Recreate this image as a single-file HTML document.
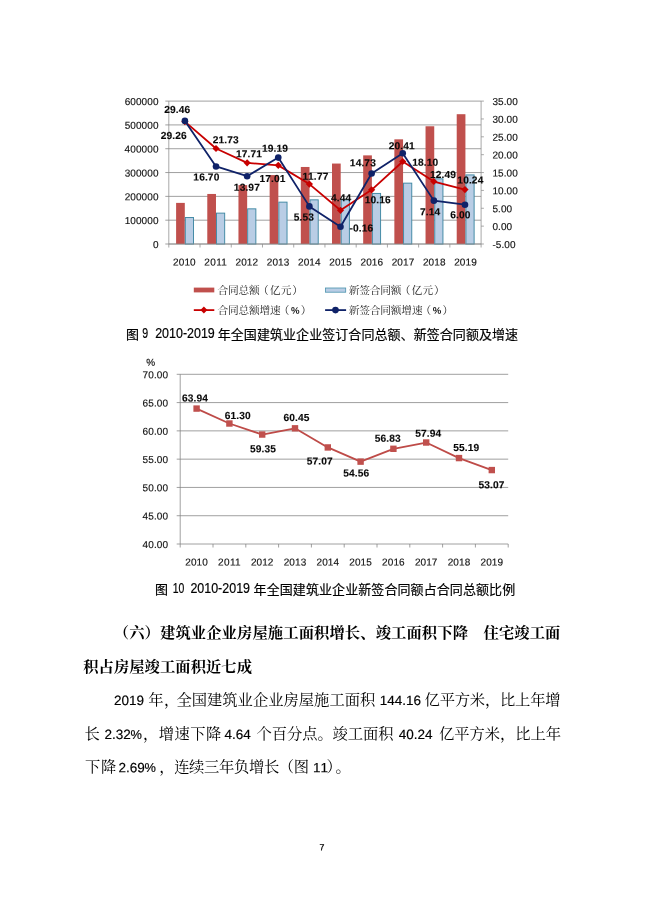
<!DOCTYPE html>
<html lang="zh"><head><meta charset="utf-8"><title>Page 7</title>
<style>html,body{margin:0;padding:0;background:#fff;}body{width:650px;height:919px;overflow:hidden;font-family:"Liberation Sans",sans-serif;}svg{display:block;will-change:transform;}</style>
</head><body>
<svg width="650" height="919" viewBox="0 0 650 919" font-family="Liberation Sans, sans-serif">
<rect width="650" height="919" fill="#fff"/>
<g stroke="#808080" stroke-width="0.75" fill="none"><line x1="165.3" y1="244.00" x2="481.1" y2="244.00"/><line x1="165.3" y1="220.18" x2="481.1" y2="220.18"/><line x1="165.3" y1="196.37" x2="481.1" y2="196.37"/><line x1="165.3" y1="172.55" x2="481.1" y2="172.55"/><line x1="165.3" y1="148.73" x2="481.1" y2="148.73"/><line x1="165.3" y1="124.92" x2="481.1" y2="124.92"/><line x1="165.3" y1="101.10" x2="481.1" y2="101.10"/></g>
<rect x="176.10" y="202.89" width="8.7" height="41.11" fill="#c0504d"/><rect x="185.30" y="217.52" width="8.2" height="26.48" fill="#b9cde5" stroke="#3f88a3" stroke-width="0.95"/><rect x="207.28" y="193.96" width="8.7" height="50.04" fill="#c0504d"/><rect x="216.48" y="213.13" width="8.2" height="30.87" fill="#b9cde5" stroke="#3f88a3" stroke-width="0.95"/><rect x="238.46" y="185.10" width="8.7" height="58.90" fill="#c0504d"/><rect x="247.66" y="208.84" width="8.2" height="35.16" fill="#b9cde5" stroke="#3f88a3" stroke-width="0.95"/><rect x="269.64" y="175.08" width="8.7" height="68.92" fill="#c0504d"/><rect x="278.84" y="202.14" width="8.2" height="41.86" fill="#b9cde5" stroke="#3f88a3" stroke-width="0.95"/><rect x="300.82" y="166.97" width="8.7" height="77.03" fill="#c0504d"/><rect x="310.02" y="199.84" width="8.2" height="44.16" fill="#b9cde5" stroke="#3f88a3" stroke-width="0.95"/><rect x="332.00" y="163.55" width="8.7" height="80.45" fill="#c0504d"/><rect x="341.20" y="199.90" width="8.2" height="44.10" fill="#b9cde5" stroke="#3f88a3" stroke-width="0.95"/><rect x="363.18" y="155.37" width="8.7" height="88.63" fill="#c0504d"/><rect x="372.38" y="193.43" width="8.2" height="50.57" fill="#b9cde5" stroke="#3f88a3" stroke-width="0.95"/><rect x="394.36" y="139.33" width="8.7" height="104.67" fill="#c0504d"/><rect x="403.56" y="183.15" width="8.2" height="60.85" fill="#b9cde5" stroke="#3f88a3" stroke-width="0.95"/><rect x="425.54" y="126.26" width="8.7" height="117.74" fill="#c0504d"/><rect x="434.74" y="178.82" width="8.2" height="65.18" fill="#b9cde5" stroke="#3f88a3" stroke-width="0.95"/><rect x="456.72" y="114.20" width="8.7" height="129.80" fill="#c0504d"/><rect x="465.92" y="174.92" width="8.2" height="69.08" fill="#b9cde5" stroke="#3f88a3" stroke-width="0.95"/>
<g stroke="#8c8c8c" stroke-width="0.75" fill="none"><line x1="168.8" y1="101.1" x2="168.8" y2="244.0"/><line x1="481.1" y1="101.1" x2="481.1" y2="244.0"/><line x1="168.8" y1="244.0" x2="481.1" y2="244.0"/><line x1="168.80" y1="244.0" x2="168.80" y2="247.5"/><line x1="200.03" y1="244.0" x2="200.03" y2="247.5"/><line x1="231.26" y1="244.0" x2="231.26" y2="247.5"/><line x1="262.49" y1="244.0" x2="262.49" y2="247.5"/><line x1="293.72" y1="244.0" x2="293.72" y2="247.5"/><line x1="324.95" y1="244.0" x2="324.95" y2="247.5"/><line x1="356.18" y1="244.0" x2="356.18" y2="247.5"/><line x1="387.41" y1="244.0" x2="387.41" y2="247.5"/><line x1="418.64" y1="244.0" x2="418.64" y2="247.5"/><line x1="449.87" y1="244.0" x2="449.87" y2="247.5"/><line x1="481.10" y1="244.0" x2="481.10" y2="247.5"/><line x1="481.1" y1="244.00" x2="483.9" y2="244.00"/><line x1="481.1" y1="226.14" x2="483.9" y2="226.14"/><line x1="481.1" y1="208.28" x2="483.9" y2="208.28"/><line x1="481.1" y1="190.41" x2="483.9" y2="190.41"/><line x1="481.1" y1="172.55" x2="483.9" y2="172.55"/><line x1="481.1" y1="154.69" x2="483.9" y2="154.69"/><line x1="481.1" y1="136.82" x2="483.9" y2="136.82"/><line x1="481.1" y1="118.96" x2="483.9" y2="118.96"/><line x1="481.1" y1="101.10" x2="483.9" y2="101.10"/></g>
<polyline points="184.90,121.61 216.02,148.51 247.14,162.87 278.26,165.37 309.38,184.09 340.50,210.28 371.62,189.84 402.74,161.48 433.86,181.52 464.98,189.56" fill="none" stroke="#c80000" stroke-width="1.8" stroke-linejoin="round"/>
<polyline points="184.90,120.89 216.02,166.48 247.14,176.23 278.26,157.58 309.38,206.38 340.50,226.71 371.62,173.51 402.74,153.22 433.86,200.63 464.98,204.70" fill="none" stroke="#0f2268" stroke-width="1.8" stroke-linejoin="round"/>
<path d="M184.90 118.01l3.6 3.6l-3.6 3.6l-3.6 -3.6z" fill="#c80000"/><path d="M216.02 144.91l3.6 3.6l-3.6 3.6l-3.6 -3.6z" fill="#c80000"/><path d="M247.14 159.27l3.6 3.6l-3.6 3.6l-3.6 -3.6z" fill="#c80000"/><path d="M278.26 161.77l3.6 3.6l-3.6 3.6l-3.6 -3.6z" fill="#c80000"/><path d="M309.38 180.49l3.6 3.6l-3.6 3.6l-3.6 -3.6z" fill="#c80000"/><path d="M340.50 206.68l3.6 3.6l-3.6 3.6l-3.6 -3.6z" fill="#c80000"/><path d="M371.62 186.24l3.6 3.6l-3.6 3.6l-3.6 -3.6z" fill="#c80000"/><path d="M402.74 157.88l3.6 3.6l-3.6 3.6l-3.6 -3.6z" fill="#c80000"/><path d="M433.86 177.92l3.6 3.6l-3.6 3.6l-3.6 -3.6z" fill="#c80000"/><path d="M464.98 185.96l3.6 3.6l-3.6 3.6l-3.6 -3.6z" fill="#c80000"/><circle cx="184.90" cy="120.89" r="3.3" fill="#0f2268"/><circle cx="216.02" cy="166.48" r="3.3" fill="#0f2268"/><circle cx="247.14" cy="176.23" r="3.3" fill="#0f2268"/><circle cx="278.26" cy="157.58" r="3.3" fill="#0f2268"/><circle cx="309.38" cy="206.38" r="3.3" fill="#0f2268"/><circle cx="340.50" cy="226.71" r="3.3" fill="#0f2268"/><circle cx="371.62" cy="173.51" r="3.3" fill="#0f2268"/><circle cx="402.74" cy="153.22" r="3.3" fill="#0f2268"/><circle cx="433.86" cy="200.63" r="3.3" fill="#0f2268"/><circle cx="464.98" cy="204.70" r="3.3" fill="#0f2268"/>
<text x="158.60" y="247.90" font-size="10" text-anchor="end" font-weight="normal" fill="#111" font-family="Liberation Sans, sans-serif" stroke="#111" stroke-width="0.15" letter-spacing="0.1" transform="rotate(0.03 158.6 247.9)">0</text>
<text x="158.60" y="224.08" font-size="10" text-anchor="end" font-weight="normal" fill="#111" font-family="Liberation Sans, sans-serif" stroke="#111" stroke-width="0.15" letter-spacing="0.1" transform="rotate(0.03 158.6 224.1)" textLength="33.97" lengthAdjust="spacing">100000</text>
<text x="158.60" y="200.27" font-size="10" text-anchor="end" font-weight="normal" fill="#111" font-family="Liberation Sans, sans-serif" stroke="#111" stroke-width="0.15" letter-spacing="0.1" transform="rotate(0.03 158.6 200.3)" textLength="33.97" lengthAdjust="spacing">200000</text>
<text x="158.60" y="176.45" font-size="10" text-anchor="end" font-weight="normal" fill="#111" font-family="Liberation Sans, sans-serif" stroke="#111" stroke-width="0.15" letter-spacing="0.1" transform="rotate(0.03 158.6 176.5)" textLength="33.97" lengthAdjust="spacing">300000</text>
<text x="158.60" y="152.63" font-size="10" text-anchor="end" font-weight="normal" fill="#111" font-family="Liberation Sans, sans-serif" stroke="#111" stroke-width="0.15" letter-spacing="0.1" transform="rotate(0.03 158.6 152.6)" textLength="33.97" lengthAdjust="spacing">400000</text>
<text x="158.60" y="128.82" font-size="10" text-anchor="end" font-weight="normal" fill="#111" font-family="Liberation Sans, sans-serif" stroke="#111" stroke-width="0.15" letter-spacing="0.1" transform="rotate(0.03 158.6 128.8)" textLength="33.97" lengthAdjust="spacing">500000</text>
<text x="158.60" y="105.00" font-size="10" text-anchor="end" font-weight="normal" fill="#111" font-family="Liberation Sans, sans-serif" stroke="#111" stroke-width="0.15" letter-spacing="0.1" transform="rotate(0.03 158.6 105.0)" textLength="33.97" lengthAdjust="spacing">600000</text>
<text x="492.40" y="247.90" font-size="10" text-anchor="start" font-weight="normal" fill="#111" font-family="Liberation Sans, sans-serif" stroke="#111" stroke-width="0.15" letter-spacing="0.1" transform="rotate(0.03 492.4 247.9)" textLength="23.29" lengthAdjust="spacing">-5.00</text>
<text x="492.40" y="230.04" font-size="10" text-anchor="start" font-weight="normal" fill="#111" font-family="Liberation Sans, sans-serif" stroke="#111" stroke-width="0.15" letter-spacing="0.1" transform="rotate(0.03 492.4 230.0)" textLength="19.86" lengthAdjust="spacing">0.00</text>
<text x="492.40" y="212.18" font-size="10" text-anchor="start" font-weight="normal" fill="#111" font-family="Liberation Sans, sans-serif" stroke="#111" stroke-width="0.15" letter-spacing="0.1" transform="rotate(0.03 492.4 212.2)" textLength="19.86" lengthAdjust="spacing">5.00</text>
<text x="492.40" y="194.31" font-size="10" text-anchor="start" font-weight="normal" fill="#111" font-family="Liberation Sans, sans-serif" stroke="#111" stroke-width="0.15" letter-spacing="0.1" transform="rotate(0.03 492.4 194.3)" textLength="25.52" lengthAdjust="spacing">10.00</text>
<text x="492.40" y="176.45" font-size="10" text-anchor="start" font-weight="normal" fill="#111" font-family="Liberation Sans, sans-serif" stroke="#111" stroke-width="0.15" letter-spacing="0.1" transform="rotate(0.03 492.4 176.5)" textLength="25.52" lengthAdjust="spacing">15.00</text>
<text x="492.40" y="158.59" font-size="10" text-anchor="start" font-weight="normal" fill="#111" font-family="Liberation Sans, sans-serif" stroke="#111" stroke-width="0.15" letter-spacing="0.1" transform="rotate(0.03 492.4 158.6)" textLength="25.52" lengthAdjust="spacing">20.00</text>
<text x="492.40" y="140.72" font-size="10" text-anchor="start" font-weight="normal" fill="#111" font-family="Liberation Sans, sans-serif" stroke="#111" stroke-width="0.15" letter-spacing="0.1" transform="rotate(0.03 492.4 140.7)" textLength="25.52" lengthAdjust="spacing">25.00</text>
<text x="492.40" y="122.86" font-size="10" text-anchor="start" font-weight="normal" fill="#111" font-family="Liberation Sans, sans-serif" stroke="#111" stroke-width="0.15" letter-spacing="0.1" transform="rotate(0.03 492.4 122.9)" textLength="25.52" lengthAdjust="spacing">30.00</text>
<text x="492.40" y="105.00" font-size="10" text-anchor="start" font-weight="normal" fill="#111" font-family="Liberation Sans, sans-serif" stroke="#111" stroke-width="0.15" letter-spacing="0.1" transform="rotate(0.03 492.4 105.0)" textLength="25.52" lengthAdjust="spacing">35.00</text>
<text x="184.42" y="265.50" font-size="10" text-anchor="middle" font-weight="normal" fill="#111" font-family="Liberation Sans, sans-serif" stroke="#111" stroke-width="0.15" letter-spacing="0.1" transform="rotate(0.03 184.4 265.5)" textLength="22.65" lengthAdjust="spacing">2010</text>
<text x="215.65" y="265.50" font-size="10" text-anchor="middle" font-weight="normal" fill="#111" font-family="Liberation Sans, sans-serif" stroke="#111" stroke-width="0.15" letter-spacing="0.1" transform="rotate(0.03 215.6 265.5)" textLength="22.65" lengthAdjust="spacing">2011</text>
<text x="246.88" y="265.50" font-size="10" text-anchor="middle" font-weight="normal" fill="#111" font-family="Liberation Sans, sans-serif" stroke="#111" stroke-width="0.15" letter-spacing="0.1" transform="rotate(0.03 246.9 265.5)" textLength="22.65" lengthAdjust="spacing">2012</text>
<text x="278.11" y="265.50" font-size="10" text-anchor="middle" font-weight="normal" fill="#111" font-family="Liberation Sans, sans-serif" stroke="#111" stroke-width="0.15" letter-spacing="0.1" transform="rotate(0.03 278.1 265.5)" textLength="22.65" lengthAdjust="spacing">2013</text>
<text x="309.34" y="265.50" font-size="10" text-anchor="middle" font-weight="normal" fill="#111" font-family="Liberation Sans, sans-serif" stroke="#111" stroke-width="0.15" letter-spacing="0.1" transform="rotate(0.03 309.3 265.5)" textLength="22.65" lengthAdjust="spacing">2014</text>
<text x="340.57" y="265.50" font-size="10" text-anchor="middle" font-weight="normal" fill="#111" font-family="Liberation Sans, sans-serif" stroke="#111" stroke-width="0.15" letter-spacing="0.1" transform="rotate(0.03 340.6 265.5)" textLength="22.65" lengthAdjust="spacing">2015</text>
<text x="371.80" y="265.50" font-size="10" text-anchor="middle" font-weight="normal" fill="#111" font-family="Liberation Sans, sans-serif" stroke="#111" stroke-width="0.15" letter-spacing="0.1" transform="rotate(0.03 371.8 265.5)" textLength="22.65" lengthAdjust="spacing">2016</text>
<text x="403.02" y="265.50" font-size="10" text-anchor="middle" font-weight="normal" fill="#111" font-family="Liberation Sans, sans-serif" stroke="#111" stroke-width="0.15" letter-spacing="0.1" transform="rotate(0.03 403.0 265.5)" textLength="22.65" lengthAdjust="spacing">2017</text>
<text x="434.25" y="265.50" font-size="10" text-anchor="middle" font-weight="normal" fill="#111" font-family="Liberation Sans, sans-serif" stroke="#111" stroke-width="0.15" letter-spacing="0.1" transform="rotate(0.03 434.3 265.5)" textLength="22.65" lengthAdjust="spacing">2018</text>
<text x="465.49" y="265.50" font-size="10" text-anchor="middle" font-weight="normal" fill="#111" font-family="Liberation Sans, sans-serif" stroke="#111" stroke-width="0.15" letter-spacing="0.1" transform="rotate(0.03 465.5 265.5)" textLength="22.65" lengthAdjust="spacing">2019</text>
<text x="177.30" y="112.90" font-size="10.2" text-anchor="middle" font-weight="bold" fill="#080808" font-family="Liberation Sans, sans-serif" stroke="#080808" stroke-width="0.12" letter-spacing="0.12" transform="rotate(0.03 177.3 112.9)" textLength="26.12" lengthAdjust="spacing">29.46</text>
<text x="173.80" y="138.90" font-size="10.2" text-anchor="middle" font-weight="bold" fill="#080808" font-family="Liberation Sans, sans-serif" stroke="#080808" stroke-width="0.12" letter-spacing="0.12" transform="rotate(0.03 173.8 138.9)" textLength="26.12" lengthAdjust="spacing">29.26</text>
<text x="225.80" y="143.20" font-size="10.2" text-anchor="middle" font-weight="bold" fill="#080808" font-family="Liberation Sans, sans-serif" stroke="#080808" stroke-width="0.12" letter-spacing="0.12" transform="rotate(0.03 225.8 143.2)" textLength="26.12" lengthAdjust="spacing">21.73</text>
<text x="206.40" y="180.60" font-size="10.2" text-anchor="middle" font-weight="bold" fill="#080808" font-family="Liberation Sans, sans-serif" stroke="#080808" stroke-width="0.12" letter-spacing="0.12" transform="rotate(0.03 206.4 180.6)" textLength="26.12" lengthAdjust="spacing">16.70</text>
<text x="249.10" y="157.20" font-size="10.2" text-anchor="middle" font-weight="bold" fill="#080808" font-family="Liberation Sans, sans-serif" stroke="#080808" stroke-width="0.12" letter-spacing="0.12" transform="rotate(0.03 249.1 157.2)" textLength="26.12" lengthAdjust="spacing">17.71</text>
<text x="246.90" y="190.80" font-size="10.2" text-anchor="middle" font-weight="bold" fill="#080808" font-family="Liberation Sans, sans-serif" stroke="#080808" stroke-width="0.12" letter-spacing="0.12" transform="rotate(0.03 246.9 190.8)" textLength="26.12" lengthAdjust="spacing">13.97</text>
<text x="275.10" y="151.80" font-size="10.2" text-anchor="middle" font-weight="bold" fill="#080808" font-family="Liberation Sans, sans-serif" stroke="#080808" stroke-width="0.12" letter-spacing="0.12" transform="rotate(0.03 275.1 151.8)" textLength="26.12" lengthAdjust="spacing">19.19</text>
<text x="272.50" y="182.00" font-size="10.2" text-anchor="middle" font-weight="bold" fill="#080808" font-family="Liberation Sans, sans-serif" stroke="#080808" stroke-width="0.12" letter-spacing="0.12" transform="rotate(0.03 272.5 182.0)" textLength="26.12" lengthAdjust="spacing">17.01</text>
<text x="315.60" y="179.80" font-size="10.2" text-anchor="middle" font-weight="bold" fill="#080808" font-family="Liberation Sans, sans-serif" stroke="#080808" stroke-width="0.12" letter-spacing="0.12" transform="rotate(0.03 315.6 179.8)" textLength="26.12" lengthAdjust="spacing">11.77</text>
<text x="303.80" y="220.60" font-size="10.2" text-anchor="middle" font-weight="bold" fill="#080808" font-family="Liberation Sans, sans-serif" stroke="#080808" stroke-width="0.12" letter-spacing="0.12" transform="rotate(0.03 303.8 220.6)" textLength="20.33" lengthAdjust="spacing">5.53</text>
<text x="341.10" y="201.20" font-size="10.2" text-anchor="middle" font-weight="bold" fill="#080808" font-family="Liberation Sans, sans-serif" stroke="#080808" stroke-width="0.12" letter-spacing="0.12" transform="rotate(0.03 341.1 201.2)" textLength="20.33" lengthAdjust="spacing">4.44</text>
<text x="361.40" y="231.60" font-size="10.2" text-anchor="middle" font-weight="bold" fill="#080808" font-family="Liberation Sans, sans-serif" stroke="#080808" stroke-width="0.12" letter-spacing="0.12" transform="rotate(0.03 361.4 231.6)" textLength="23.85" lengthAdjust="spacing">-0.16</text>
<text x="362.90" y="166.20" font-size="10.2" text-anchor="middle" font-weight="bold" fill="#080808" font-family="Liberation Sans, sans-serif" stroke="#080808" stroke-width="0.12" letter-spacing="0.12" transform="rotate(0.03 362.9 166.2)" textLength="26.12" lengthAdjust="spacing">14.73</text>
<text x="377.70" y="203.20" font-size="10.2" text-anchor="middle" font-weight="bold" fill="#080808" font-family="Liberation Sans, sans-serif" stroke="#080808" stroke-width="0.12" letter-spacing="0.12" transform="rotate(0.03 377.7 203.2)" textLength="26.12" lengthAdjust="spacing">10.16</text>
<text x="401.80" y="149.20" font-size="10.2" text-anchor="middle" font-weight="bold" fill="#080808" font-family="Liberation Sans, sans-serif" stroke="#080808" stroke-width="0.12" letter-spacing="0.12" transform="rotate(0.03 401.8 149.2)" textLength="26.12" lengthAdjust="spacing">20.41</text>
<text x="425.30" y="165.80" font-size="10.2" text-anchor="middle" font-weight="bold" fill="#080808" font-family="Liberation Sans, sans-serif" stroke="#080808" stroke-width="0.12" letter-spacing="0.12" transform="rotate(0.03 425.3 165.8)" textLength="26.12" lengthAdjust="spacing">18.10</text>
<text x="443.10" y="178.00" font-size="10.2" text-anchor="middle" font-weight="bold" fill="#080808" font-family="Liberation Sans, sans-serif" stroke="#080808" stroke-width="0.12" letter-spacing="0.12" transform="rotate(0.03 443.1 178.0)" textLength="26.12" lengthAdjust="spacing">12.49</text>
<text x="430.10" y="215.20" font-size="10.2" text-anchor="middle" font-weight="bold" fill="#080808" font-family="Liberation Sans, sans-serif" stroke="#080808" stroke-width="0.12" letter-spacing="0.12" transform="rotate(0.03 430.1 215.2)" textLength="20.33" lengthAdjust="spacing">7.14</text>
<text x="470.40" y="183.40" font-size="10.2" text-anchor="middle" font-weight="bold" fill="#080808" font-family="Liberation Sans, sans-serif" stroke="#080808" stroke-width="0.12" letter-spacing="0.12" transform="rotate(0.03 470.4 183.4)" textLength="26.12" lengthAdjust="spacing">10.24</text>
<text x="460.30" y="218.20" font-size="10.2" text-anchor="middle" font-weight="bold" fill="#080808" font-family="Liberation Sans, sans-serif" stroke="#080808" stroke-width="0.12" letter-spacing="0.12" transform="rotate(0.03 460.3 218.2)" textLength="20.33" lengthAdjust="spacing">6.00</text>
<rect x="193.8" y="287.6" width="20.5" height="4.8" fill="#c0504d"/>
<rect x="325.5" y="288.0" width="20.2" height="4.2" fill="#b9cde5" stroke="#4a93ad" stroke-width="0.8"/>
<line x1="193.8" y1="310.1" x2="214.3" y2="310.1" stroke="#c80000" stroke-width="1.8"/>
<path d="M203.9 306.6l3.5 3.5l-3.5 3.5l-3.5 -3.5z" fill="#c80000"/>
<line x1="325.1" y1="310.1" x2="346.1" y2="310.1" stroke="#0f2268" stroke-width="1.8"/>
<circle cx="335.5" cy="310.1" r="3.3" fill="#0f2268"/>
<g fill="#222" font-size="10.7" font-family="'Liberation Serif', 'Noto Serif CJK SC', serif">
<text x="217.5" y="294.0" textLength="42.2">合同总额</text>
<text x="258.0" y="294.0" textLength="10.7">（</text>
<text x="269.7" y="294.0" textLength="21.8">亿元</text>
<text x="292.3" y="294.0" textLength="10.7">）</text>
<text x="348.7" y="294.0" textLength="52.8">新签合同额</text>
<text x="399.8" y="294.0" textLength="10.7">（</text>
<text x="411.5" y="294.0" textLength="21.8">亿元</text>
<text x="434.1" y="294.0" textLength="10.7">）</text>
<text x="217.5" y="314.0" textLength="63.3">合同总额增速</text>
<text x="278.8" y="314.0" textLength="10.7">（</text>
<text x="300.7" y="314.0" textLength="10.7">）</text>
<text x="348.7" y="314.0" textLength="73.9">新签合同额增速</text>
<text x="420.6" y="314.0" textLength="10.7">（</text>
<text x="442.5" y="314.0" textLength="10.7">）</text>
</g>
<text x="291.00" y="313.80" font-size="9.6" text-anchor="start" font-weight="bold" fill="#222" font-family="Liberation Sans, sans-serif" transform="rotate(0.03 291.0 313.8)">%</text>
<text x="432.75" y="313.80" font-size="9.6" text-anchor="start" font-weight="bold" fill="#222" font-family="Liberation Sans, sans-serif" transform="rotate(0.03 432.8 313.8)">%</text>
<text x="126.0" y="339.3" font-size="13.0" fill="#000" stroke="#000" stroke-width="0.18" font-family="'Liberation Sans', 'Noto Sans CJK SC', sans-serif" textLength="13.0">图</text>
<text x="142.3" y="338.4" font-size="14" stroke="#000" stroke-width="0.2" textLength="5.9" lengthAdjust="spacingAndGlyphs">9</text>
<text x="155.2" y="338.4" font-size="14" stroke="#000" stroke-width="0.2" textLength="59.6" lengthAdjust="spacingAndGlyphs">2010-2019</text>
<text x="217.7" y="339.3" font-size="13.0" fill="#000" stroke="#000" stroke-width="0.18" font-family="'Liberation Sans', 'Noto Sans CJK SC', sans-serif" textLength="300.4">年全国建筑业企业签订合同总额、新签合同额及增速</text>
<g stroke="#808080" stroke-width="0.75" fill="none"><line x1="176.7" y1="544.00" x2="508.2" y2="544.00"/><line x1="176.7" y1="515.72" x2="508.2" y2="515.72"/><line x1="176.7" y1="487.43" x2="508.2" y2="487.43"/><line x1="176.7" y1="459.15" x2="508.2" y2="459.15"/><line x1="176.7" y1="430.87" x2="508.2" y2="430.87"/><line x1="176.7" y1="402.58" x2="508.2" y2="402.58"/><line x1="176.7" y1="374.30" x2="508.2" y2="374.30"/><line x1="180.2" y1="374.3" x2="180.2" y2="544.0"/><line x1="180.20" y1="544.0" x2="180.20" y2="547.5"/><line x1="213.00" y1="544.0" x2="213.00" y2="547.5"/><line x1="245.80" y1="544.0" x2="245.80" y2="547.5"/><line x1="278.60" y1="544.0" x2="278.60" y2="547.5"/><line x1="311.40" y1="544.0" x2="311.40" y2="547.5"/><line x1="344.20" y1="544.0" x2="344.20" y2="547.5"/><line x1="377.00" y1="544.0" x2="377.00" y2="547.5"/><line x1="409.80" y1="544.0" x2="409.80" y2="547.5"/><line x1="442.60" y1="544.0" x2="442.60" y2="547.5"/><line x1="475.40" y1="544.0" x2="475.40" y2="547.5"/><line x1="508.20" y1="544.0" x2="508.20" y2="547.5"/></g>
<polyline points="196.60,408.58 229.40,423.51 262.20,434.54 295.00,428.32 327.80,447.44 360.60,461.64 393.40,448.80 426.20,442.52 459.00,458.08 491.80,470.07" fill="none" stroke="#be4b48" stroke-width="1.8" stroke-linejoin="round"/>
<rect x="193.40" y="405.38" width="6.4" height="6.4" fill="#c0504d"/><rect x="226.20" y="420.31" width="6.4" height="6.4" fill="#c0504d"/><rect x="259.00" y="431.34" width="6.4" height="6.4" fill="#c0504d"/><rect x="291.80" y="425.12" width="6.4" height="6.4" fill="#c0504d"/><rect x="324.60" y="444.24" width="6.4" height="6.4" fill="#c0504d"/><rect x="357.40" y="458.44" width="6.4" height="6.4" fill="#c0504d"/><rect x="390.20" y="445.60" width="6.4" height="6.4" fill="#c0504d"/><rect x="423.00" y="439.32" width="6.4" height="6.4" fill="#c0504d"/><rect x="455.80" y="454.88" width="6.4" height="6.4" fill="#c0504d"/><rect x="488.60" y="466.87" width="6.4" height="6.4" fill="#c0504d"/>
<text x="142.60" y="547.90" font-size="10" text-anchor="start" font-weight="normal" fill="#111" font-family="Liberation Sans, sans-serif" stroke="#111" stroke-width="0.15" letter-spacing="0.1" transform="rotate(0.03 142.6 547.9)" textLength="25.52" lengthAdjust="spacing">40.00</text>
<text x="142.60" y="519.62" font-size="10" text-anchor="start" font-weight="normal" fill="#111" font-family="Liberation Sans, sans-serif" stroke="#111" stroke-width="0.15" letter-spacing="0.1" transform="rotate(0.03 142.6 519.6)" textLength="25.52" lengthAdjust="spacing">45.00</text>
<text x="142.60" y="491.33" font-size="10" text-anchor="start" font-weight="normal" fill="#111" font-family="Liberation Sans, sans-serif" stroke="#111" stroke-width="0.15" letter-spacing="0.1" transform="rotate(0.03 142.6 491.3)" textLength="25.52" lengthAdjust="spacing">50.00</text>
<text x="142.60" y="463.05" font-size="10" text-anchor="start" font-weight="normal" fill="#111" font-family="Liberation Sans, sans-serif" stroke="#111" stroke-width="0.15" letter-spacing="0.1" transform="rotate(0.03 142.6 463.0)" textLength="25.52" lengthAdjust="spacing">55.00</text>
<text x="142.60" y="434.77" font-size="10" text-anchor="start" font-weight="normal" fill="#111" font-family="Liberation Sans, sans-serif" stroke="#111" stroke-width="0.15" letter-spacing="0.1" transform="rotate(0.03 142.6 434.8)" textLength="25.52" lengthAdjust="spacing">60.00</text>
<text x="142.60" y="406.48" font-size="10" text-anchor="start" font-weight="normal" fill="#111" font-family="Liberation Sans, sans-serif" stroke="#111" stroke-width="0.15" letter-spacing="0.1" transform="rotate(0.03 142.6 406.5)" textLength="25.52" lengthAdjust="spacing">65.00</text>
<text x="142.60" y="378.20" font-size="10" text-anchor="start" font-weight="normal" fill="#111" font-family="Liberation Sans, sans-serif" stroke="#111" stroke-width="0.15" letter-spacing="0.1" transform="rotate(0.03 142.6 378.2)" textLength="25.52" lengthAdjust="spacing">70.00</text>
<text x="146.20" y="365.80" font-size="10" text-anchor="start" font-weight="normal" fill="#111" font-family="Liberation Sans, sans-serif" stroke="#111" stroke-width="0.15" transform="rotate(0.03 146.2 365.8)">%</text>
<text x="196.60" y="565.50" font-size="10" text-anchor="middle" font-weight="normal" fill="#111" font-family="Liberation Sans, sans-serif" stroke="#111" stroke-width="0.15" letter-spacing="0.1" transform="rotate(0.03 196.6 565.5)" textLength="22.65" lengthAdjust="spacing">2010</text>
<text x="229.40" y="565.50" font-size="10" text-anchor="middle" font-weight="normal" fill="#111" font-family="Liberation Sans, sans-serif" stroke="#111" stroke-width="0.15" letter-spacing="0.1" transform="rotate(0.03 229.4 565.5)" textLength="22.65" lengthAdjust="spacing">2011</text>
<text x="262.20" y="565.50" font-size="10" text-anchor="middle" font-weight="normal" fill="#111" font-family="Liberation Sans, sans-serif" stroke="#111" stroke-width="0.15" letter-spacing="0.1" transform="rotate(0.03 262.2 565.5)" textLength="22.65" lengthAdjust="spacing">2012</text>
<text x="295.00" y="565.50" font-size="10" text-anchor="middle" font-weight="normal" fill="#111" font-family="Liberation Sans, sans-serif" stroke="#111" stroke-width="0.15" letter-spacing="0.1" transform="rotate(0.03 295.0 565.5)" textLength="22.65" lengthAdjust="spacing">2013</text>
<text x="327.80" y="565.50" font-size="10" text-anchor="middle" font-weight="normal" fill="#111" font-family="Liberation Sans, sans-serif" stroke="#111" stroke-width="0.15" letter-spacing="0.1" transform="rotate(0.03 327.8 565.5)" textLength="22.65" lengthAdjust="spacing">2014</text>
<text x="360.60" y="565.50" font-size="10" text-anchor="middle" font-weight="normal" fill="#111" font-family="Liberation Sans, sans-serif" stroke="#111" stroke-width="0.15" letter-spacing="0.1" transform="rotate(0.03 360.6 565.5)" textLength="22.65" lengthAdjust="spacing">2015</text>
<text x="393.40" y="565.50" font-size="10" text-anchor="middle" font-weight="normal" fill="#111" font-family="Liberation Sans, sans-serif" stroke="#111" stroke-width="0.15" letter-spacing="0.1" transform="rotate(0.03 393.4 565.5)" textLength="22.65" lengthAdjust="spacing">2016</text>
<text x="426.20" y="565.50" font-size="10" text-anchor="middle" font-weight="normal" fill="#111" font-family="Liberation Sans, sans-serif" stroke="#111" stroke-width="0.15" letter-spacing="0.1" transform="rotate(0.03 426.2 565.5)" textLength="22.65" lengthAdjust="spacing">2017</text>
<text x="459.00" y="565.50" font-size="10" text-anchor="middle" font-weight="normal" fill="#111" font-family="Liberation Sans, sans-serif" stroke="#111" stroke-width="0.15" letter-spacing="0.1" transform="rotate(0.03 459.0 565.5)" textLength="22.65" lengthAdjust="spacing">2018</text>
<text x="491.80" y="565.50" font-size="10" text-anchor="middle" font-weight="normal" fill="#111" font-family="Liberation Sans, sans-serif" stroke="#111" stroke-width="0.15" letter-spacing="0.1" transform="rotate(0.03 491.8 565.5)" textLength="22.65" lengthAdjust="spacing">2019</text>
<text x="195.00" y="401.60" font-size="10.2" text-anchor="middle" font-weight="bold" fill="#080808" font-family="Liberation Sans, sans-serif" stroke="#080808" stroke-width="0.12" letter-spacing="0.12" transform="rotate(0.03 195.0 401.6)" textLength="26.12" lengthAdjust="spacing">63.94</text>
<text x="237.70" y="418.90" font-size="10.2" text-anchor="middle" font-weight="bold" fill="#080808" font-family="Liberation Sans, sans-serif" stroke="#080808" stroke-width="0.12" letter-spacing="0.12" transform="rotate(0.03 237.7 418.9)" textLength="26.12" lengthAdjust="spacing">61.30</text>
<text x="263.10" y="452.20" font-size="10.2" text-anchor="middle" font-weight="bold" fill="#080808" font-family="Liberation Sans, sans-serif" stroke="#080808" stroke-width="0.12" letter-spacing="0.12" transform="rotate(0.03 263.1 452.2)" textLength="26.12" lengthAdjust="spacing">59.35</text>
<text x="296.60" y="421.00" font-size="10.2" text-anchor="middle" font-weight="bold" fill="#080808" font-family="Liberation Sans, sans-serif" stroke="#080808" stroke-width="0.12" letter-spacing="0.12" transform="rotate(0.03 296.6 421.0)" textLength="26.12" lengthAdjust="spacing">60.45</text>
<text x="319.70" y="464.40" font-size="10.2" text-anchor="middle" font-weight="bold" fill="#080808" font-family="Liberation Sans, sans-serif" stroke="#080808" stroke-width="0.12" letter-spacing="0.12" transform="rotate(0.03 319.7 464.4)" textLength="26.12" lengthAdjust="spacing">57.07</text>
<text x="356.20" y="476.60" font-size="10.2" text-anchor="middle" font-weight="bold" fill="#080808" font-family="Liberation Sans, sans-serif" stroke="#080808" stroke-width="0.12" letter-spacing="0.12" transform="rotate(0.03 356.2 476.6)" textLength="26.12" lengthAdjust="spacing">54.56</text>
<text x="387.80" y="441.70" font-size="10.2" text-anchor="middle" font-weight="bold" fill="#080808" font-family="Liberation Sans, sans-serif" stroke="#080808" stroke-width="0.12" letter-spacing="0.12" transform="rotate(0.03 387.8 441.7)" textLength="26.12" lengthAdjust="spacing">56.83</text>
<text x="428.20" y="436.70" font-size="10.2" text-anchor="middle" font-weight="bold" fill="#080808" font-family="Liberation Sans, sans-serif" stroke="#080808" stroke-width="0.12" letter-spacing="0.12" transform="rotate(0.03 428.2 436.7)" textLength="26.12" lengthAdjust="spacing">57.94</text>
<text x="466.30" y="451.00" font-size="10.2" text-anchor="middle" font-weight="bold" fill="#080808" font-family="Liberation Sans, sans-serif" stroke="#080808" stroke-width="0.12" letter-spacing="0.12" transform="rotate(0.03 466.3 451.0)" textLength="26.12" lengthAdjust="spacing">55.19</text>
<text x="491.60" y="488.20" font-size="10.2" text-anchor="middle" font-weight="bold" fill="#080808" font-family="Liberation Sans, sans-serif" stroke="#080808" stroke-width="0.12" letter-spacing="0.12" transform="rotate(0.03 491.6 488.2)" textLength="26.12" lengthAdjust="spacing">53.07</text>
<text x="155.0" y="593.7" font-size="13.0" fill="#000" stroke="#000" stroke-width="0.18" font-family="'Liberation Sans', 'Noto Sans CJK SC', sans-serif" textLength="13.0">图</text>
<text x="172.8" y="592.8" font-size="14" stroke="#000" stroke-width="0.2" textLength="11.6" lengthAdjust="spacingAndGlyphs">10</text>
<text x="190.4" y="592.8" font-size="14" stroke="#000" stroke-width="0.2" textLength="59.6" lengthAdjust="spacingAndGlyphs">2010-2019</text>
<text x="253.6" y="593.7" font-size="13.0" fill="#000" stroke="#000" stroke-width="0.18" font-family="'Liberation Sans', 'Noto Sans CJK SC', sans-serif" textLength="261.6">年全国建筑业企业新签合同额占合同总额比例</text>
<text x="113.8" y="637.6" font-size="15.3" font-weight="bold" fill="#000" font-family="'Liberation Serif', 'Noto Serif CJK SC', serif" textLength="446.6">（六）建筑业企业房屋施工面积增长、竣工面积下降　住宅竣工面</text>
<text x="83.2" y="671.6" font-size="15.3" font-weight="bold" fill="#000" font-family="'Liberation Serif', 'Noto Serif CJK SC', serif" textLength="168.8">积占房屋竣工面积近七成</text>
<text x="114.00" y="705.10" font-size="13.5" text-anchor="start" font-weight="normal" fill="#000" font-family="Liberation Sans, sans-serif" stroke="#000" stroke-width="0.18" transform="rotate(0.03 114.0 705.1)" textLength="30.03" lengthAdjust="spacing">2019</text>
<g fill="#000" font-size="15.3" font-family="'Liberation Serif', 'Noto Serif CJK SC', serif">
<text x="148.3" y="705.1" textLength="30.9">年，</text>
<text x="176.4" y="705.1" textLength="198.9">全国建筑业企业房屋施工面积</text>
<text x="424.6" y="705.1" textLength="136.0">亿平方米，比上年增</text>
<text x="84.6" y="739.1" textLength="15.3">长</text>
<text x="143.1" y="739.1" textLength="78.1">，增速下降</text>
<text x="256.6" y="739.1" textLength="136.9">个百分点。竣工面积</text>
<text x="438.9" y="739.1" textLength="122.1">亿平方米，比上年</text>
<text x="85.0" y="772.3" textLength="31.2">下降</text>
<text x="159.2" y="772.3" textLength="149.9">，连续三年负增长（图</text>
<text x="326.6" y="772.3" textLength="24.1">）。</text>
</g>
<text x="379.80" y="705.10" font-size="13.5" text-anchor="start" font-weight="normal" fill="#000" font-family="Liberation Sans, sans-serif" stroke="#000" stroke-width="0.18" transform="rotate(0.03 379.8 705.1)" textLength="41.29" lengthAdjust="spacing">144.16</text>
<text x="104.60" y="739.10" font-size="13.5" text-anchor="start" font-weight="normal" fill="#000" font-family="Liberation Sans, sans-serif" stroke="#000" stroke-width="0.18" transform="rotate(0.03 104.6 739.1)" textLength="26.27" lengthAdjust="spacing">2.32</text>
<text transform="translate(130.4 739.1) scale(0.95 1)" font-size="13.5" stroke="#000" stroke-width="0.18">%</text>
<text x="224.60" y="739.10" font-size="13.5" text-anchor="start" font-weight="normal" fill="#000" font-family="Liberation Sans, sans-serif" stroke="#000" stroke-width="0.18" transform="rotate(0.03 224.6 739.1)" textLength="26.27" lengthAdjust="spacing">4.64</text>
<text x="398.80" y="739.10" font-size="13.5" text-anchor="start" font-weight="normal" fill="#000" font-family="Liberation Sans, sans-serif" stroke="#000" stroke-width="0.18" transform="rotate(0.03 398.8 739.1)" textLength="33.78" lengthAdjust="spacing">40.24</text>
<text x="118.60" y="772.30" font-size="13.5" text-anchor="start" font-weight="normal" fill="#000" font-family="Liberation Sans, sans-serif" stroke="#000" stroke-width="0.18" transform="rotate(0.03 118.6 772.3)" textLength="26.27" lengthAdjust="spacing">2.69</text>
<text transform="translate(144.4 772.3) scale(0.95 1)" font-size="13.5" stroke="#000" stroke-width="0.18">%</text>
<text x="313.00" y="772.30" font-size="13.5" text-anchor="start" font-weight="normal" fill="#000" font-family="Liberation Sans, sans-serif" stroke="#000" stroke-width="0.18" transform="rotate(0.03 313.0 772.3)" textLength="15.02" lengthAdjust="spacing">11</text>
<text x="322.00" y="850.30" font-size="8.8" text-anchor="middle" font-weight="normal" fill="#000" font-family="Liberation Sans, sans-serif" stroke="#000" stroke-width="0.25" transform="rotate(0.03 322.0 850.3)">7</text>
</svg>
</body></html>
